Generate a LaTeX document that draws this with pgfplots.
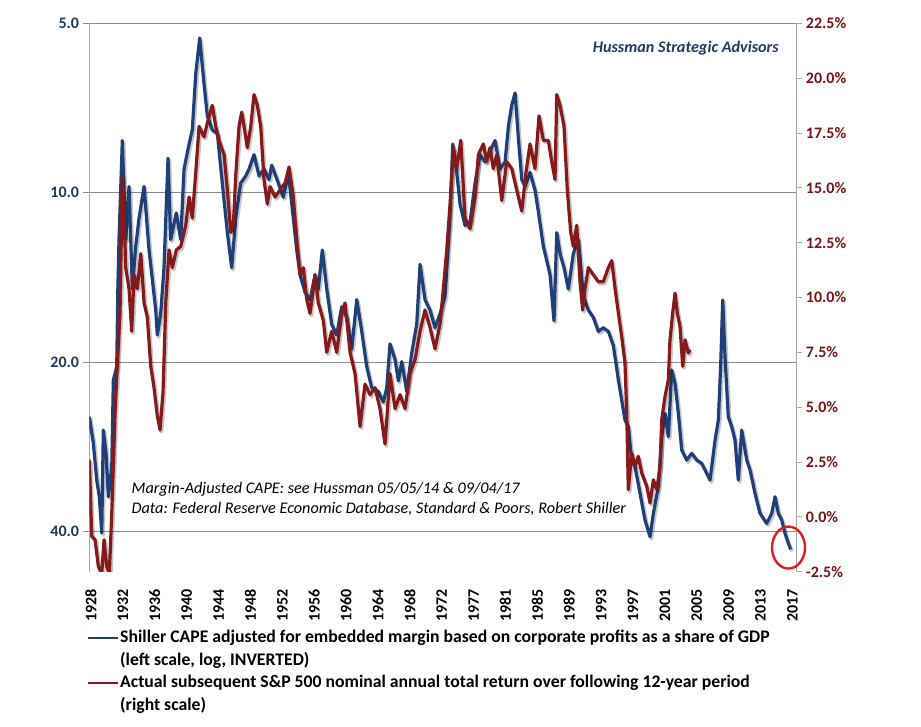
\documentclass[border=0pt]{standalone}
\usepackage{fontspec}
\setmainfont{Carlito}
\usepackage{pgfplots}
\pgfplotsset{compat=1.18}
\usepackage{pgfplotstable}
\definecolor{capeblue}{HTML}{1F3F78}
\definecolor{retred}{HTML}{861A1A}
\definecolor{labblue}{HTML}{1F3864}
\definecolor{labred}{HTML}{7A1414}
\definecolor{gridgray}{HTML}{8C8C8C}
\definecolor{axisgray}{HTML}{A6A6A6}
\definecolor{ellred}{HTML}{E01E1E}

\pgfplotstableread{
year cape
1927.78 25.03
1928.29 27.87
1928.72 32.44
1929.05 34.73
1929.36 40.30
1929.56 26.43
1929.90 29.04
1930.20 34.73
1930.63 30.72
1930.83 21.54
1931.26 20.40
1931.40 14.90
1931.55 12.12
1931.97 8.08
1932.40 12.12
1932.82 9.75
1933.24 14.84
1933.67 12.47
1934.09 11.11
1934.73 9.75
1935.36 12.65
1936.21 16.18
1936.41 17.91
1936.84 16.42
1937.26 13.60
1937.77 8.69
1938.11 12.12
1938.82 10.87
1939.38 12.12
1939.80 9.08
1940.44 8.20
1940.85 7.74
1941.29 6.14
1941.79 5.31
1942.34 6.41
1942.76 7.31
1943.39 7.74
1944.03 7.85
1944.66 9.62
1945.30 11.78
1945.85 13.60
1946.36 11.11
1946.99 9.62
1947.63 9.34
1948.05 9.08
1948.68 8.56
1949.32 9.34
1949.95 9.08
1950.59 9.48
1950.93 8.94
1951.77 9.62
1952.40 10.19
1953.04 9.21
1953.67 11.11
1954.10 12.65
1954.52 14.00
1955.16 15.05
1955.79 15.50
1956.43 14.00
1956.84 14.84
1957.35 12.65
1957.91 14.84
1958.54 17.15
1959.18 17.91
1959.81 15.95
1960.45 16.66
1961.08 18.97
1961.72 15.50
1962.35 17.65
1962.99 20.40
1963.62 22.25
1964.46 22.57
1965.09 23.57
1965.52 22.25
1965.94 18.57
1966.58 19.81
1967.00 21.61
1967.43 19.97
1968.06 22.57
1968.70 19.26
1969.33 17.15
1969.75 13.41
1970.38 15.50
1971.02 16.18
1971.65 17.39
1972.29 16.42
1972.92 15.27
1973.56 10.95
1973.90 8.20
1974.41 9.21
1974.83 10.49
1975.46 11.44
1976.10 11.27
1976.73 9.62
1977.36 8.56
1978.00 8.82
1978.63 8.44
1979.27 8.08
1979.90 9.08
1980.54 8.82
1980.96 7.63
1981.39 6.99
1981.81 6.65
1982.22 7.97
1982.66 9.48
1983.07 9.75
1983.71 9.21
1984.34 9.90
1984.76 10.80
1985.40 12.47
1985.83 13.21
1986.25 14.00
1986.75 16.90
1987.10 11.78
1987.52 12.84
1988.02 13.60
1988.57 14.84
1989.20 12.84
1989.84 12.12
1990.47 15.27
1991.11 16.18
1991.74 16.66
1992.38 17.65
1993.01 17.39
1993.65 17.65
1994.28 18.70
1994.92 21.54
1995.34 23.38
1995.76 25.37
1996.18 26.08
1996.61 29.88
1997.03 30.72
1997.67 34.25
1998.30 38.21
1998.94 40.91
1999.36 37.18
1999.99 33.34
2000.42 27.16
2000.84 24.68
2001.26 27.16
2001.69 20.67
2002.11 21.83
2002.53 24.68
2002.96 28.69
2003.59 29.88
2004.23 29.08
2004.86 29.88
2005.50 30.29
2006.13 31.56
2006.55 32.44
2007.19 27.53
2007.61 25.37
2007.91 20.12
2008.16 15.52
2008.45 19.58
2008.87 25.03
2009.30 26.08
2009.72 27.53
2010.14 32.44
2010.57 26.43
2011.21 29.88
2011.63 31.13
2012.26 34.25
2012.90 37.18
2013.75 38.73
2014.38 37.18
2014.80 34.73
2015.22 37.18
2015.65 38.21
2016.07 40.34
2016.49 42.03
2016.79 43.08
}\capedata

\pgfplotstableread{
year ret
1927.78 2.61
1928.09 -0.89
1928.51 -1.04
1928.93 -2.26
1929.36 -2.60
1929.65 -1.04
1929.99 -2.26
1930.32 -2.60
1930.63 0.18
1931.05 4.73
1931.34 7.01
1931.68 9.29
1931.97 15.55
1932.19 13.78
1932.40 11.36
1932.82 10.40
1933.16 8.46
1933.46 11.04
1933.88 10.40
1934.31 12.00
1934.73 9.75
1935.14 9.11
1935.58 6.86
1935.99 5.89
1936.41 4.60
1936.76 3.96
1937.14 5.73
1937.48 9.75
1937.90 12.17
1938.32 11.36
1938.82 12.17
1939.38 12.33
1940.02 13.29
1940.44 14.58
1940.85 13.62
1941.29 15.71
1941.71 17.80
1942.34 17.32
1942.76 17.96
1943.39 18.76
1943.82 17.80
1944.24 17.16
1944.88 16.51
1945.30 14.90
1945.73 12.97
1946.06 13.29
1946.36 15.55
1946.78 17.80
1947.12 18.45
1947.42 17.80
1947.83 16.83
1948.27 17.80
1948.68 19.25
1949.10 18.76
1949.53 17.80
1949.95 15.38
1950.37 14.26
1950.72 15.06
1951.35 14.58
1951.98 14.90
1952.62 15.22
1953.13 15.95
1953.67 14.58
1954.10 12.65
1954.52 11.04
1954.94 11.36
1955.37 9.91
1955.79 9.27
1956.43 11.04
1956.84 9.75
1957.48 8.95
1957.91 7.50
1958.54 8.46
1959.18 7.50
1959.81 9.27
1960.23 9.75
1960.87 7.50
1961.50 6.53
1962.14 4.12
1962.77 6.05
1963.41 5.57
1964.04 5.89
1964.67 4.93
1965.31 3.32
1965.94 6.53
1966.58 4.93
1967.21 5.57
1967.85 4.93
1968.48 6.53
1969.12 7.18
1969.75 8.46
1970.38 9.43
1971.02 8.63
1971.65 7.66
1972.29 8.79
1972.71 10.40
1973.14 12.17
1973.56 14.26
1973.98 16.83
1974.41 15.87
1974.92 17.16
1975.46 13.62
1976.10 13.13
1976.73 14.58
1977.15 16.51
1977.78 17.00
1978.21 16.19
1978.63 16.83
1979.05 15.87
1979.48 16.51
1980.12 14.42
1980.75 16.19
1981.39 15.87
1982.02 14.90
1982.66 13.94
1983.20 15.71
1983.71 17.00
1984.34 15.87
1984.85 18.28
1985.40 17.16
1986.03 17.16
1986.46 16.19
1986.88 15.38
1987.10 19.25
1987.52 18.76
1988.02 17.80
1988.44 14.90
1988.87 12.97
1989.20 12.33
1989.63 13.29
1990.05 10.72
1990.39 9.43
1990.69 10.40
1991.11 11.36
1991.74 11.04
1992.38 10.72
1993.01 10.72
1993.65 11.36
1994.08 11.68
1994.50 10.40
1994.92 9.29
1995.34 8.22
1995.76 7.01
1995.98 4.73
1996.18 1.24
1996.61 2.91
1997.03 2.30
1997.45 2.76
1997.88 2.00
1998.52 1.39
1998.94 0.63
1999.36 1.69
1999.79 1.24
2000.21 2.30
2000.42 4.43
2000.84 5.49
2001.26 6.25
2001.47 8.07
2001.81 9.29
2002.11 10.20
2002.40 9.29
2002.74 8.68
2003.09 6.86
2003.38 8.07
2003.80 7.47
2004.01 7.62
}\retdata

\begin{document}
\begin{tikzpicture}
\useasboundingbox (0,0) rectangle (921pt,726pt);
\begin{axis}[
  at={(89.3pt,154.3pt)}, anchor=south west,
  scale only axis, width=707.4pt, height=548.4pt,
  xmin=1927.78, xmax=2017.55,
  ymode=log, y dir=reverse, ymin=5, ymax=47.2,
  separate axis lines,
  x axis line style={draw=none},
  y axis line style={draw=axisgray, line width=1pt},
  xtick={1928,1932.045,1936.091,1940.136,1944.182,1948.227,1952.273,1956.318,1960.364,1964.409,1968.455,1972.5,1976.545,1980.591,1984.636,1988.682,1992.727,1996.773,2000.818,2004.864,2008.909,2012.955,2017},
  xticklabels={1928,1932,1936,1940,1944,1948,1952,1956,1960,1964,1968,1972,1977,1981,1985,1989,1993,1997,2001,2005,2009,2013,2017},
  xtick style={draw=none},
  xticklabel style={rotate=90, anchor=east, font=\fontsize{16}{16}\selectfont\bfseries, inner sep=0pt},
  xticklabel shift=11pt,
  ytick={5,10,20,40}, yticklabels={5.0,10.0,20.0,40.0},
  ytick pos=left,
  yticklabel style={font=\fontsize{16}{16}\selectfont\bfseries, text=labblue, inner sep=0pt},
  ytick style={draw=gridgray, line width=0.8pt},
  tick align=outside, major tick length=6pt,
  yticklabel shift=4pt,
  ymajorgrids, major grid style={draw=gridgray, line width=0.8pt},
]
\addplot[draw=black, opacity=0.22, line width=3.6pt, line join=round, xshift=1.5pt, yshift=-2pt, forget plot] table[x=year,y=cape]{\capedata};
\addplot[draw=capeblue, line width=3.2pt, line join=round] table[x=year,y=cape]{\capedata};
\coordinate (circ) at (axis cs:2016.51,42.76);
\end{axis}
\begin{axis}[
  at={(89.3pt,154.3pt)}, anchor=south west,
  scale only axis, width=707.4pt, height=548.4pt,
  xmin=1927.78, xmax=2017.55,
  ymin=-2.5, ymax=22.5,
  axis x line=none,
  axis y line*=right,
  y axis line style={draw=axisgray, line width=1pt},
  ytick={-2.5,0,2.5,5,7.5,10,12.5,15,17.5,20,22.5},
  yticklabels={-2.5\%,0.0\%,2.5\%,5.0\%,7.5\%,10.0\%,12.5\%,15.0\%,17.5\%,20.0\%,22.5\%},
  yticklabel style={font=\fontsize{16}{16}\selectfont\bfseries, text=labred, inner sep=0pt},
  ytick style={draw=axisgray, line width=0.8pt},
  tick align=outside, major tick length=5pt,
  yticklabel shift=4pt,
]
\addplot[draw=black, opacity=0.22, line width=3.6pt, line join=round, xshift=1.5pt, yshift=-2pt, forget plot] table[x=year,y=ret]{\retdata};
\addplot[draw=retred, line width=3.2pt, line join=round] table[x=year,y=ret]{\retdata};
\end{axis}
\draw[ellred, line width=2.4pt] (circ) ellipse [x radius=16.5pt, y radius=21pt];
\node[anchor=east, inner sep=0pt, font=\fontsize{16.2}{19}\selectfont\bfseries\itshape, text=labblue] at (779pt,677.7pt) {Hussman Strategic Advisors};
\node[anchor=west, inner sep=0pt, font=\fontsize{16.2}{19}\selectfont\itshape] at (131.5pt,237pt) {Margin-Adjusted CAPE: see Hussman 05/05/14 \& 09/04/17};
\node[anchor=west, inner sep=0pt, font=\fontsize{16.2}{19}\selectfont\itshape] at (131.5pt,217.3pt) {Data: Federal Reserve Economic Database, Standard \& Poors, Robert Shiller};
\draw[capeblue, line width=1.8pt] (88pt,88.3pt) -- (118pt,88.3pt);
\draw[retred, line width=1.8pt] (88pt,43.3pt) -- (118pt,43.3pt);
\begin{scope}[every node/.style={anchor=west, inner sep=0pt, font=\fontsize{17.7}{21}\selectfont\bfseries}]
\node at (120pt,88.3pt) {Shiller CAPE adjusted for embedded margin based on corporate profits as a share of GDP};
\node at (120pt,66pt) {(left scale, log, INVERTED)};
\node at (120pt,43.3pt) {Actual subsequent S\&P 500 nominal annual total return over following 12-year period};
\node at (120pt,21pt) {(right scale)};
\end{scope}
\end{tikzpicture}
\end{document}
